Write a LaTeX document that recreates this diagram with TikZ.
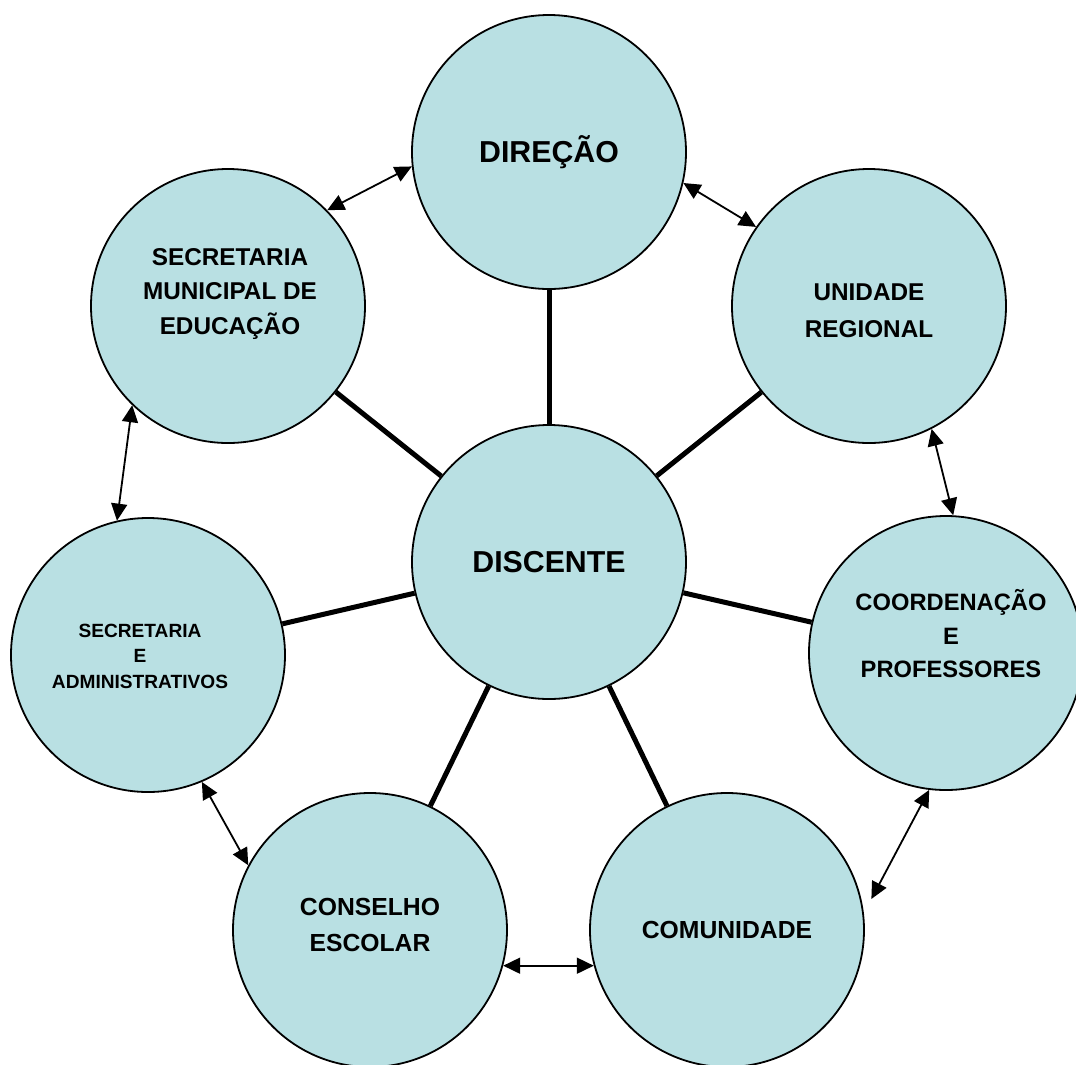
\documentclass[tikz,border=0pt]{standalone}
\usepackage{fontspec}
\setmainfont{Liberation Sans}
\usetikzlibrary{arrows.meta}
\definecolor{ballblue}{RGB}{185,224,227}
\tikzset{
  ball/.style={draw,circle,fill=ballblue,line width=0.9bp,minimum size=274bp*0.5,inner sep=0pt,align=center},
  big/.style={font=\fontsize{15.2}{18}\selectfont\bfseries},
  mid/.style={font=\fontsize{12.2}{17.5}\selectfont\bfseries,align=center},
  small/.style={font=\fontsize{9.6}{12.8}\selectfont\bfseries,align=center},
  spoke/.style={line width=2.5bp},
  link/.style={<->,line width=0.9bp},
}
\begin{document}
\begin{tikzpicture}[x=0.5bp,y=-0.5bp,>={Triangle[length=8.5bp,width=8bp]},line join=bevel]
\clip (0,0) rectangle (1076,1065);
%%
\node (dir) at (549,152) [ball,big] {DIREÇÃO};
  \node (smed) at (228,306) [ball,label={[mid,yshift=6bp,xshift=1bp]center:SECRETARIA\\MUNICIPAL DE\\EDUCAÇÃO}] {};
  \node (ur) at (869,306) [ball,label={[mid,font=\fontsize{12.2}{18.5}\selectfont\bfseries,yshift=-2.5bp]center:UNIDADE\\REGIONAL}] {};
  \node (disc) at (549,562) [ball,big] {DISCENTE};
  \node (sadm) at (148,655) [ball,label={[small,xshift=-4bp,yshift=-0.5bp]center:SECRETARIA\\E\\ADMINISTRATIVOS}] {};
  \node (coord) at (946,653) [ball,label={[mid,font=\fontsize{11.9}{16.8}\selectfont\bfseries,xshift=2.5bp,yshift=9.5bp]center:COORDENAÇÃO\\E\\PROFESSORES}] {};
  \node (cons) at (370,930) [ball,label={[mid,font=\fontsize{12.4}{18.5}\selectfont\bfseries,yshift=2.5bp]center:CONSELHO\\ESCOLAR}] {};
  \node (com) at (727,930) [ball,mid,font=\fontsize{12.4}{18}\selectfont\bfseries] {COMUNIDADE};
%
  \draw [spoke] (disc) -- (dir);
  \draw [spoke] (disc) -- (smed);
  \draw [spoke] (disc) -- (ur);
  \draw [spoke] (disc) -- (sadm);
  \draw [spoke] (disc) -- (coord);
  \draw [spoke] (disc) -- (cons);
  \draw [spoke] (disc) -- (com);
%
  \draw [link] (dir.186) -- (smed.44);
  \draw [link] (dir.-13) -- (ur.145);
  \draw [link] (smed.226) -- (sadm.103);
  \draw [link] (ur.-63) -- (coord.87);
  \draw [link] (sadm.-67) -- (cons.152);
  \draw [link] (cons.-15) -- (com.195);
  \draw [link] (coord.263) -- ([xshift=5bp]com.13);
%
\end{tikzpicture}
\end{document}
